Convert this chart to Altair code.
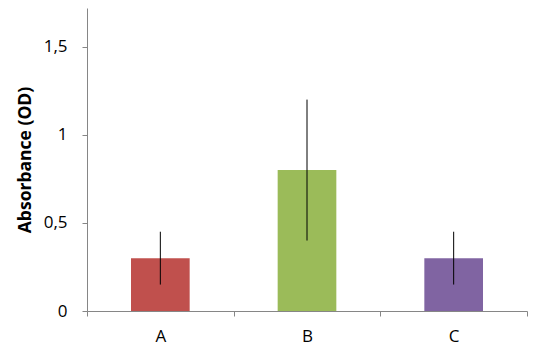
import altair as alt
import pandas as pd

categories = ["A", "B", "C"]
values = [0.30, 0.80, 0.30]
err_low = [0.15, 0.40, 0.15]
err_high = [0.45, 1.20, 0.45]
colors = ["#C0504D", "#9BBB59", "#8064A2"]

df = pd.DataFrame({"cat": categories, "val": values, "lo": err_low, "hi": err_high})

FONT = "Open Sans"

x = alt.X("cat:N", title=None,
          scale=alt.Scale(paddingInner=0, paddingOuter=0),
          axis=alt.Axis(labelAngle=0, tickBand="extent", domainColor="#868686",
                        tickColor="#868686", tickSize=5, labelFontSize=17,
                        labelFont=FONT, labelColor="#000000", labelPadding=12))

bars = alt.Chart(df).mark_bar(width=alt.RelativeBandSize(0.4)).encode(
    x=x,
    y=alt.Y("val:Q", title="Absorbance (OD)",
            scale=alt.Scale(domain=[0, 1.72], nice=False),
            axis=alt.Axis(values=[0, 0.5, 1, 1.5], grid=False,
                          labelExpr="replace(toString(datum.value), '.', ',')",
                          domainColor="#868686", tickColor="#868686", tickSize=5,
                          labelFontSize=17, labelFont=FONT, labelColor="#000000",
                          labelPadding=15, titleFont=FONT, titleFontSize=17.5,
                          titleFontWeight="bold", titleColor="#000000",
                          titlePadding=9)),
    color=alt.Color("cat:N", scale=alt.Scale(domain=categories, range=colors), legend=None),
)

errs = alt.Chart(df).mark_rule(color="#000000", strokeWidth=1).encode(
    x=alt.X("cat:N"),
    y="lo:Q",
    y2="hi:Q",
)

chart = alt.layer(bars, errs).properties(
    width=440, height=303,
    background="white",
    padding={"left": 79, "top": 0, "right": 1, "bottom": 40},
    autosize=alt.AutoSizeParams(type="none"),
).configure_view(stroke=None)

chart.save("out.html", embed_options={"renderer": "svg", "actions": False})
